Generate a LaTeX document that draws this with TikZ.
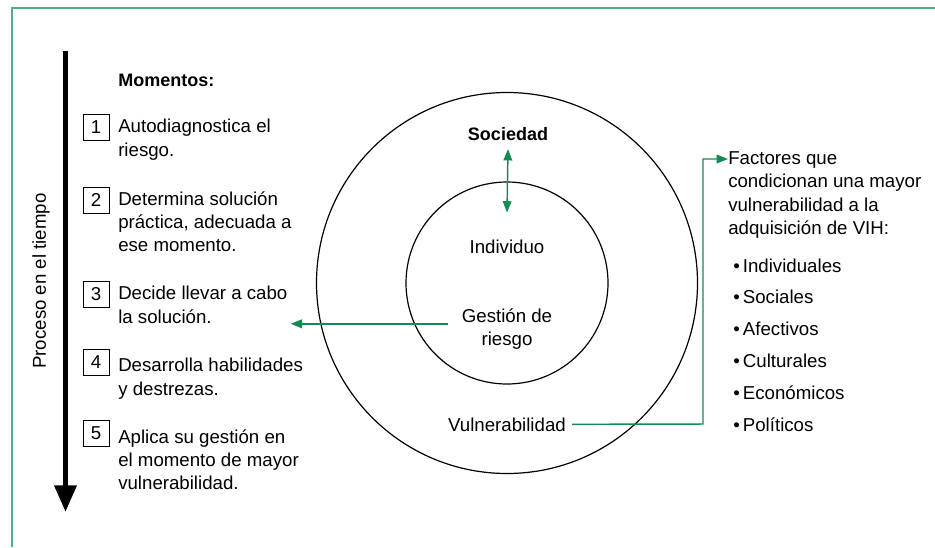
\documentclass[tikz,border=0pt]{standalone}
\usepackage{fontspec}
\setmainfont{Liberation Sans}
\usetikzlibrary{arrows.meta, positioning, calc}

\definecolor{framegreen}{RGB}{82,172,132}
\definecolor{linkgreen}{RGB}{18,140,84}

\begin{document}
\begin{tikzpicture}[
    x=0.75pt, y=-0.75pt,
    every node/.style={font=\fontsize{14}{17.6}\selectfont, inner sep=0pt},
    heading/.style={font=\fontsize{13.5}{16}\selectfont\bfseries},
    ring/.style={circle, draw, line width=0.9pt},
    numbox/.style={draw, line width=0.7pt, minimum width=19.5pt, minimum height=19.5pt},
    steptext/.style={anchor=north west, align=left},
    factor/.style={anchor=base west},
    timearrow/.style={line width=4.2pt, -{Triangle[width=16pt, length=20pt]}},
    link/.style={linkgreen, line width=1.1pt, -{Triangle[width=6.5pt, length=8.5pt]}},
    dlink/.style={linkgreen, line width=1.1pt, {Triangle[width=6.5pt, length=8.5pt]}-{Triangle[width=6.5pt, length=8.5pt]}},
]
\useasboundingbox (0,0) rectangle (935,547);

%% --- Frame (top and left edges only) ---
\draw[framegreen, line width=1.5pt] (12,547) -- (12,8) -- (935,8);

%% --- Time axis ---
\coordinate (tstart) at (65.5,51);
\coordinate (tend) at (65.5,512);
\draw[timearrow] (tstart) -- (tend);
\node[rotate=90] (time) at (41,281) {Proceso en el tiempo};

%% --- Moments ---
\node[heading, anchor=base west] (mom) at (118,86) {Momentos:};

\node[numbox] (n1) at (96,127.5) {1};
\node[steptext] (t1) at (118,119) {Autodiagnostica el\\riesgo.};

\node[numbox] (n2) at (96,200) {2};
\node[steptext] (t2) at (118,191) {Determina solución\\práctica, adecuada a\\ese momento.};

\node[numbox] (n3) at (96,294) {3};
\node[steptext] (t3) at (118,286) {Decide llevar a cabo\\la solución.};

\node[numbox] (n4) at (96,362) {4};
\node[steptext] (t4) at (118,358) {Desarrolla habilidades\\y destrezas.};

\node[numbox] (n5) at (96,433) {5};
\node[steptext] (t5) at (118,429) {Aplica su gestión en\\el momento de mayor\\vulnerabilidad.};

%% --- Circles ---
\node[ring, minimum size=285.75pt] (outer) at (507,283) {};
\node[ring, minimum size=151.5pt] (inner) at (507,283) {};

\node[heading, anchor=base] (soc) at (508,140) {Sociedad};
\node[anchor=base] (ind) at (507,253) {Individuo};
\node[anchor=north, align=center] (gest) at (507,308) {Gestión de\\riesgo};
\node[anchor=base] (vul) at (507,431) {Vulnerabilidad};

\draw[dlink] ([yshift=-6.5pt]soc.south) -- ([yshift=20pt]ind.north);
\draw[link] ([xshift=-10.5pt, yshift=3.75pt]gest.west) -- ($(gest.west -| t3.east)+(3,-5)$);

%% --- Factors ---
\node[steptext] (fact) at (728,151)
    {Factores que\\condicionan una mayor\\vulnerabilidad a la\\adquisición de VIH:};
\node[factor] (f1) at (733,272) {\textbullet\,Individuales};
\node[factor] (f2) at (733,303) {\textbullet\,Sociales};
\node[factor] (f3) at (733,335) {\textbullet\,Afectivos};
\node[factor] (f4) at (733,367) {\textbullet\,Culturales};
\node[factor] (f5) at (733,399) {\textbullet\,Económicos};
\node[factor] (f6) at (733,431) {\textbullet\,Políticos};

\coordinate (bend) at (703,424);
\draw[link, shorten <=4.5pt] (vul.east) -- (bend) |- ([yshift=-6pt]fact.north west);

\end{tikzpicture}
\end{document}
